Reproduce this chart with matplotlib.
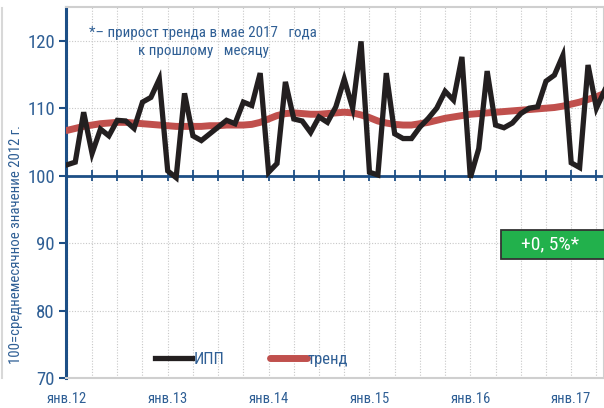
import matplotlib
matplotlib.use("Agg")
import matplotlib.pyplot as plt
from matplotlib import font_manager
from matplotlib.lines import Line2D
from matplotlib.patches import Rectangle
import numpy as np

# narrow font if one is installed, else condensed DejaVu
installed = {f.name for f in font_manager.fontManager.ttflist}
narrow = [n for n in ['Roboto Condensed', 'Noto Sans Condensed', 'Open Sans Condensed',
                      'Liberation Sans Narrow'] if n in installed]
plt.rcParams['font.family'] = narrow[:1] + ['DejaVu Sans']
plt.rcParams['font.stretch'] = 'condensed'

# monthly index, Jan 2012 .. May 2017 (100 = average month of 2012)
ipp = [101.6, 102.0, 109.4, 103.3, 106.9, 105.9, 108.2, 108.1, 107.0, 110.9,
       111.6, 114.3, 100.7, 99.7, 112.2, 105.9, 105.2, 106.2, 107.2, 108.2,
       107.7, 110.9, 110.4, 115.2, 100.5, 101.8, 113.9, 108.4, 108.1, 106.4,
       108.7, 107.9, 110.2, 114.3, 110.0, 119.9, 100.5, 100.1, 115.2, 106.2,
       105.5, 105.5, 107.2, 108.5, 110.0, 112.5, 111.2, 117.6, 99.7, 104.0,
       115.5, 107.5, 107.1, 107.8, 109.2, 110.0, 110.2, 114.0, 114.9, 117.8,
       101.9, 101.2, 116.4, 110.0, 112.7]
trend = [106.7, 107.0, 107.3, 107.5, 107.7, 107.8, 107.9, 107.9, 107.8, 107.7,
         107.6, 107.5, 107.4, 107.3, 107.3, 107.3, 107.3, 107.4, 107.4, 107.5,
         107.5, 107.5, 107.6, 107.9, 108.4, 108.9, 109.2, 109.3, 109.2, 109.1,
         109.1, 109.2, 109.3, 109.4, 109.3, 109.0, 108.6, 108.1, 107.8, 107.6,
         107.5, 107.5, 107.7, 107.9, 108.2, 108.5, 108.7, 108.9, 109.1, 109.2,
         109.3, 109.4, 109.5, 109.6, 109.7, 109.8, 109.9, 110.0, 110.1, 110.3,
         110.6, 110.9, 111.3, 111.7, 112.2]
year_labels = ['янв.12', 'янв.13', 'янв.14', 'янв.15', 'янв.16', 'янв.17']
note = '*– прирост тренда в мае 2017   года\nк прошлому   месяцу'
badge = '+0, 5%*'

BLUE = '#1d4f86'
TXT = '#2f5f95'

months = np.arange(len(ipp))

fig = plt.figure(figsize=(6.04, 4.08), dpi=100)
ax = fig.add_axes([66 / 604, 1 - 378 / 408, 1 - 66 / 604, 371 / 408])

ax.plot(months, trend, color='#c0504d', lw=5, solid_capstyle='round', label='тренд', zorder=3)
ax.plot(months, ipp, color='#231f20', lw=3.8, solid_joinstyle='miter', label='ИПП', zorder=4)

ax.set_xlim(-0.1, 63.9)
ax.set_ylim(70, 125)

# quarterly grid, January labels
quarters = np.arange(0, 64, 3)
ax.set_xticks(quarters)
ax.set_xticklabels([year_labels[q // 12] if q % 12 == 0 else '' for q in quarters])
ax.tick_params(axis='x', length=0, pad=10, labelsize=10.5, labelcolor=TXT)
ax.set_yticks(np.arange(70, 121, 10))
ax.tick_params(axis='y', length=5, width=1.5, color=BLUE, labelsize=13.5, labelcolor=TXT, pad=3)
ax.grid(True, ls=(0, (1, 1.5)), color='#c8c8c8', lw=0.8)

# axis line at 100 with quarterly ticks
ax.axhline(100, color=BLUE, lw=2, zorder=2)
ax.vlines(quarters[1:], 99.2, 100.8, color=BLUE, lw=1.3, zorder=2)

for side in ['top', 'bottom', 'right']:
    ax.spines[side].set_color('#cfcfcf')
    ax.spines[side].set_linewidth(1.5)
ax.spines['left'].set_color(BLUE)
ax.spines['left'].set_linewidth(2.2)

fig.text(16 / 604, 1 - 244 / 408, '100=среднемесячное значение 2012 г.', rotation=90,
         ha='center', va='center', fontsize=10.6, color=TXT)

ax.text(0.255, 0.95, note, transform=ax.transAxes, ha='center', va='top',
        fontsize=10.8, color=TXT, linespacing=1.45)

# green badge
ax.add_patch(Rectangle((0.8086, 0.3208), 0.2, 0.078, transform=ax.transAxes,
                       fc='#22b14c', ec='#333333', lw=1.3, clip_on=False, zorder=5))
ax.text(0.9, 0.3605, badge, transform=ax.transAxes, ha='center', va='center',
        fontsize=14, color='white', zorder=6)

handles, labels = ax.get_legend_handles_labels()
ax.legend(handles[::-1], labels[::-1], loc='lower left', bbox_to_anchor=(0.166, 0.03),
          ncol=2, frameon=False, fontsize=12, handlelength=2.2, handletextpad=0.08,
          columnspacing=2.75, borderpad=0, borderaxespad=0, labelcolor=TXT)

fig.add_artist(Line2D([2 / 604, 2 / 604], [1 - 378 / 408, 1 - 8 / 408],
                      transform=fig.transFigure, color='#d8d8d8', lw=1.5))

fig.savefig('out.png', dpi=100)
